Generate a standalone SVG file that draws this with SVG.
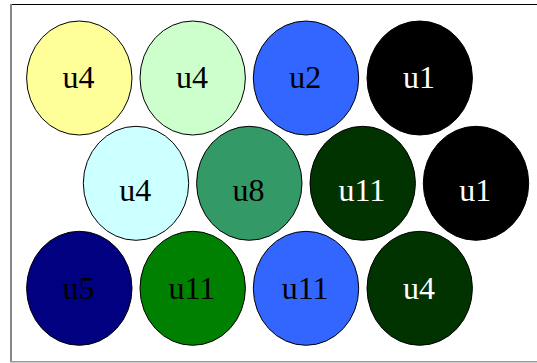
<svg xmlns="http://www.w3.org/2000/svg" width="537" height="363" viewBox="0 0 537 363">
<style>
.n ellipse{stroke:#000;stroke-width:1}
text{font-family:"Liberation Serif","Times New Roman",serif;font-size:32px;text-anchor:middle}
.w text{fill:#fff}
.b text{fill:#000}
</style>
<rect x="0" y="0" width="537" height="363" fill="#fff"/>
<g id="frame">
<line x1="11" y1="4.5" x2="537" y2="4.5" stroke="#000" stroke-width="1.2"/>
<line x1="11" y1="4" x2="11" y2="362" stroke="#888" stroke-width="2"/>
<line x1="10" y1="361.8" x2="537" y2="361.8" stroke="#999" stroke-width="1.5"/>
</g>
<g id="connectors"></g>
<g id="n1" class="n b"><ellipse cx="79.3" cy="78" rx="52.7" ry="57" fill="#ffff99"/><text x="78.5" y="88.3">u4</text></g>
<g id="n2" class="n b"><ellipse cx="192.7" cy="78" rx="52.7" ry="57" fill="#ccffcc"/><text x="191.9" y="88.3">u4</text></g>
<g id="n3" class="n b"><ellipse cx="306" cy="78" rx="52.7" ry="57" fill="#3366ff"/><text x="305.2" y="88.3">u2</text></g>
<g id="n4" class="n w"><ellipse cx="419.7" cy="78" rx="52.7" ry="57" fill="#000"/><text x="418.9" y="88.3">u1</text></g>
<g id="n5" class="n b"><ellipse cx="136" cy="183.3" rx="52.7" ry="57" fill="#ccffff"/><text x="135.2" y="201">u4</text></g>
<g id="n6" class="n b"><ellipse cx="249.3" cy="183.3" rx="52.7" ry="57" fill="#339966"/><text x="248.5" y="201">u8</text></g>
<g id="n7" class="n w"><ellipse cx="362.7" cy="183.3" rx="52.7" ry="57" fill="#003300"/><text x="361.9" y="201">u11</text></g>
<g id="n8" class="n w"><ellipse cx="476" cy="183.3" rx="52.7" ry="57" fill="#000"/><text x="475.2" y="201">u1</text></g>
<g id="n9" class="n b"><ellipse cx="79.3" cy="288.3" rx="52.7" ry="57" fill="#000080"/><text x="78.5" y="298.5">u5</text></g>
<g id="n10" class="n b"><ellipse cx="192.7" cy="288.3" rx="52.7" ry="57" fill="#008000"/><text x="191.9" y="298.5">u11</text></g>
<g id="n11" class="n b"><ellipse cx="306" cy="288.3" rx="52.7" ry="57" fill="#3366ff"/><text x="305.2" y="298.5">u11</text></g>
<g id="n12" class="n w"><ellipse cx="419.7" cy="288.3" rx="52.7" ry="57" fill="#003300"/><text x="418.9" y="298.5">u4</text></g>
</svg>
